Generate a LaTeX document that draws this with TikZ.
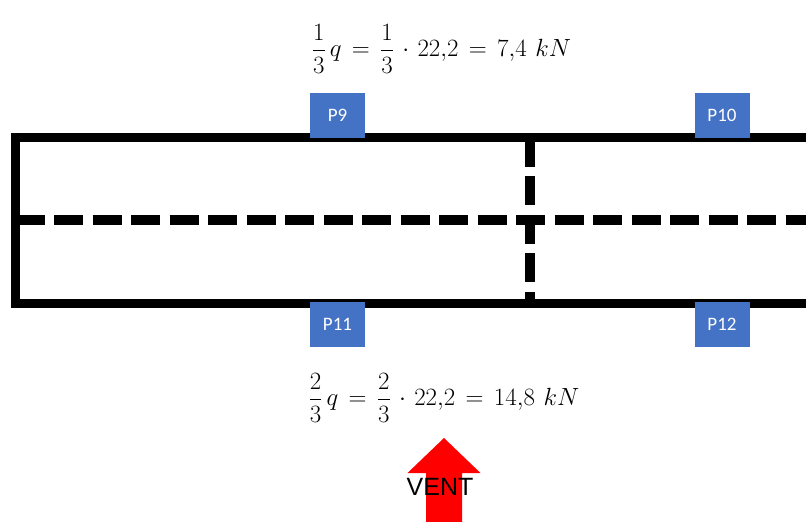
\documentclass[tikz,border=0pt]{standalone}
\usepackage{amsmath}
\usepackage{fontspec}
\newfontfamily\calfont{Carlito}
\newfontfamily\arialfont{Liberation Sans}
\usetikzlibrary{positioning}
\definecolor{pblue}{HTML}{4472C4}
\definecolor{ventred}{HTML}{FF0000}
\thickmuskip=7.5mu plus 2mu
\medmuskip=6mu plus 2mu

\begin{document}
\begin{tikzpicture}[x=1pt,y=-1pt,
  wall/.style={line width=9pt},
  joint/.style={line width=9.5pt,dash pattern=on 29pt off 9.5pt},
  pbox/.style={fill=pblue,text=white,minimum width=55pt,minimum height=45pt,inner sep=0pt,font=\calfont\fontsize{19}{19}\selectfont},
  load/.style={font=\fontsize{29}{32}\selectfont}]
  \useasboundingbox (0,0) rectangle (806,522);
  % walls, open to the right
  \draw[wall] (806,137.8) -- (15.5,137.8) -- (15.5,303.2) -- (806,303.2);
  % joints
  \draw[joint] (15.5,220) -- (806,220);
  \draw[joint] (530,137.8) -- (530,303.2);
  % supports
  \node[pbox] (p9) at (337.5,115.5) {P9};
  \node[pbox] (p10) at (722,115.5) {P10};
  \node[pbox] (p11) at (337.5,324.5) {P11};
  \node[pbox] (p12) at (722,324.5) {P12};
  % loads
  \node[load] (qtop) at (441.5,49) {$\dfrac{1}{3}\,q=\dfrac{1}{3}\cdot 22{,}2=7{,}4\ kN$};
  \node[load] (qbot) at (444,398) {$\dfrac{2}{3}\,q=\dfrac{2}{3}\cdot 22{,}2=14{,}8\ kN$};
  % wind
  \fill[ventred] (444,438) -- (480.5,473) -- (462,473) -- (462,522) -- (426,522) -- (426,473) -- (407.5,473) -- cycle;
  \node[font=\arialfont\fontsize{25}{25}\selectfont] (vent) at (440,486.5) {VENT};
\end{tikzpicture}
\end{document}
